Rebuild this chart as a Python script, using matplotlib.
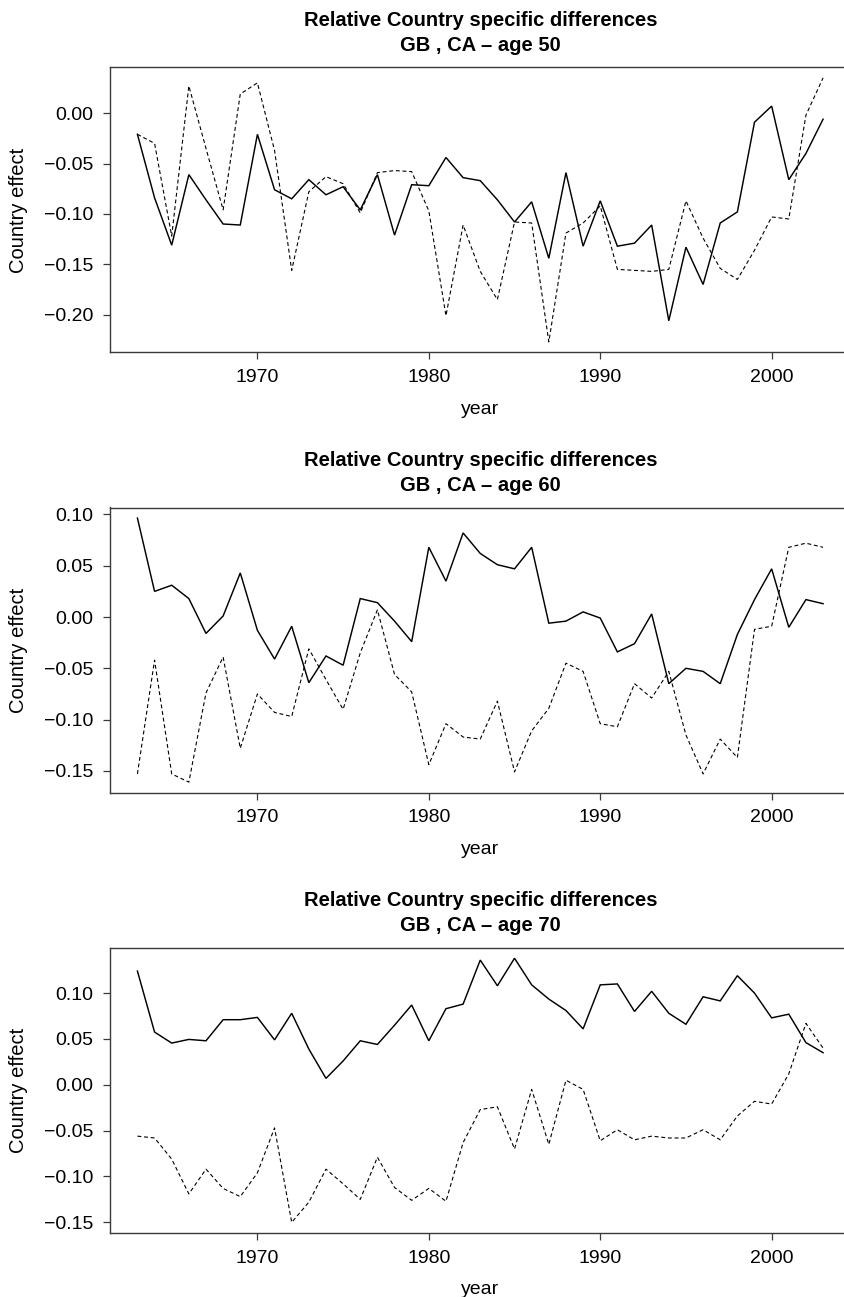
import numpy as np
import matplotlib
matplotlib.use("Agg")
import matplotlib.pyplot as plt

plt.rcParams['font.family'] = ['Liberation Sans', 'DejaVu Sans']
plt.rcParams['axes.xmargin'] = 0.04
plt.rcParams['axes.ymargin'] = 0.04

# --- DATA ---
years = list(range(1963, 2004))

solid_50 = [-0.021, -0.084, -0.131, -0.061, -0.086, -0.110, -0.111, -0.021, -0.076, -0.085,
            -0.066, -0.081, -0.073, -0.096, -0.061, -0.121, -0.071, -0.072, -0.044, -0.064,
            -0.067, -0.086, -0.108, -0.088, -0.144, -0.059, -0.132, -0.087, -0.132, -0.129,
            -0.111, -0.206, -0.133, -0.170, -0.109, -0.098, -0.009, 0.007, -0.066, -0.040,
            -0.006]
dashed_50 = [-0.021, -0.030, -0.122, 0.027, -0.035, -0.096, 0.019, 0.030, -0.037, -0.156,
             -0.078, -0.063, -0.070, -0.099, -0.059, -0.057, -0.058, -0.097, -0.201, -0.111,
             -0.157, -0.185, -0.108, -0.109, -0.227, -0.119, -0.109, -0.092, -0.155, -0.156,
             -0.157, -0.155, -0.087, -0.124, -0.154, -0.165, -0.136, -0.103, -0.105, -0.002,
             0.035]

solid_60 = [0.0965, 0.025, 0.031, 0.018, -0.016, 0.001, 0.043, -0.013, -0.041, -0.009,
            -0.064, -0.038, -0.047, 0.018, 0.014, -0.004, -0.024, 0.068, 0.035, 0.082,
            0.062, 0.051, 0.047, 0.068, -0.006, -0.004, 0.005, -0.001, -0.034, -0.026,
            0.003, -0.065, -0.050, -0.053, -0.065, -0.017, 0.017, 0.047, -0.010, 0.017,
            0.013]
dashed_60 = [-0.153, -0.042, -0.153, -0.161, -0.074, -0.039, -0.128, -0.075, -0.093, -0.097,
             -0.031, -0.061, -0.090, -0.035, 0.007, -0.056, -0.073, -0.144, -0.104, -0.117,
             -0.119, -0.082, -0.151, -0.111, -0.089, -0.045, -0.053, -0.104, -0.107, -0.065,
             -0.079, -0.053, -0.115, -0.153, -0.119, -0.137, -0.012, -0.009, 0.068, 0.072,
             0.068]

solid_70 = [0.124, 0.0575, 0.0455, 0.0495, 0.048, 0.071, 0.071, 0.0735, 0.049, 0.078,
            0.039, 0.007, 0.026, 0.048, 0.044, 0.065, 0.087, 0.048, 0.083, 0.088,
            0.136, 0.108, 0.138, 0.109, 0.0935, 0.081, 0.061, 0.109, 0.110, 0.080,
            0.102, 0.078, 0.066, 0.096, 0.0915, 0.119, 0.100, 0.073, 0.077, 0.046,
            0.035]
dashed_70 = [-0.056, -0.058, -0.081, -0.119, -0.092, -0.113, -0.122, -0.096, -0.047, -0.150,
             -0.128, -0.092, -0.108, -0.125, -0.079, -0.112, -0.126, -0.113, -0.127, -0.063,
             -0.027, -0.024, -0.070, -0.005, -0.065, 0.005, -0.005, -0.061, -0.049, -0.060,
             -0.056, -0.058, -0.058, -0.049, -0.060, -0.034, -0.018, -0.021, 0.012, 0.067,
             0.040]

ages = [50, 60, 70]
xticks = [1970, 1980, 1990, 2000]
yticks_50 = [-0.20, -0.15, -0.10, -0.05, 0.00]
yticks_60 = [-0.15, -0.10, -0.05, 0.00, 0.05, 0.10]
yticks_70 = [-0.15, -0.10, -0.05, 0.00, 0.05, 0.10]

title_line1 = "Relative Country specific differences"
title_line2 = "GB , CA \u2013 age {}"

# --- LAYOUT ---
W, H = 844, 1297
fig = plt.figure(figsize=(W / 100, H / 100), dpi=100)

ax_left = 110 / W
ax_width = 740.5 / W   # right edge runs just past the figure, like the reference
ax_h = 285.2
ax_tops = [67.3, 507.5, 947.7]  # pixels from top

panels = [
    (solid_50, dashed_50, yticks_50),
    (solid_60, dashed_60, yticks_60),
    (solid_70, dashed_70, yticks_70),
]

spine_col = '#3a3a3a'

for i, (solid, dashed, yt) in enumerate(panels):
    bottom = 1 - (ax_tops[i] + ax_h) / H
    ax = fig.add_axes([ax_left, bottom, ax_width, ax_h / H])

    ax.plot(years, solid, color='black', lw=1.05, solid_joinstyle='miter')
    ax.plot(years, dashed, color='black', lw=0.8, dashes=(3.5, 2.5))

    ax.set_xticks(xticks)
    ax.set_xticklabels([str(x) for x in xticks])
    ax.set_yticks(yt)
    ax.set_yticklabels([("%.2f" % v).replace('-', '\u2212') for v in yt])

    for s in ax.spines.values():
        s.set_color(spine_col)
        s.set_linewidth(1.0)
    ax.tick_params(direction='out', length=5, width=0.9, color=spine_col,
                   labelsize=14, pad=7, top=False, right=False)

    ax.text(0.5, -0.199, "year", transform=ax.transAxes, ha='center', va='center',
            fontsize=14)
    ax.text(-0.1229, 0.5, "Country effect", transform=ax.transAxes, ha='center',
            va='center', rotation=90, fontsize=14.5)

    ax.text(0.5, 1 + 47 / ax_h, title_line1, transform=ax.transAxes, ha='center',
            va='center', fontsize=14.5, fontweight='bold')
    ax.text(0.5, 1 + 22 / ax_h, title_line2.format(ages[i]), transform=ax.transAxes,
            ha='center', va='center', fontsize=14.5, fontweight='bold')

fig.savefig("out.png", dpi=100)
